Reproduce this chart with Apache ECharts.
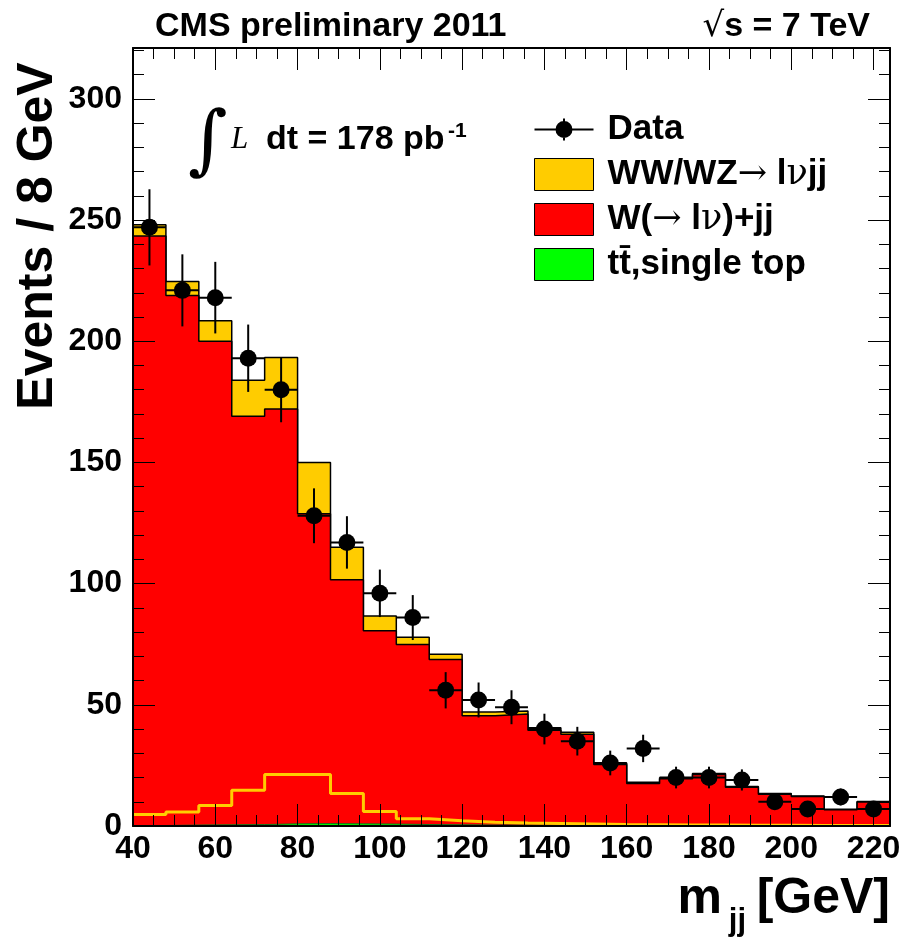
<!DOCTYPE html>
<html>
<head>
<meta charset="utf-8">
<script src="https://cdn.jsdelivr.net/npm/echarts@6/dist/echarts.min.js"></script>
<style>
html,body{margin:0;padding:0;background:#fff;}
#chart{width:907px;height:946px;}
</style>
</head>
<body>
<div id="chart"></div>
<script>
// ---- data ----
const binEdges = [40,48,56,64,72,80,88,96,104,112,120,128,136,144,152,160,168,176,184,192,200,208,216,224];
const binWidth = 8;
const dataCounts = [247,221,218,193,180,128,117,96,86,56,52,49,40,35,26,32,20,20,19,10,7,12,7];
const wjets = [243.2,218.5,199.5,168.5,171.2,127.8,100.7,79.8,74.3,68.2,45.1,45.8,39.2,37.6,25.2,17.3,19.3,21.1,15.9,13.0,12.1,6.6,9.8];
const diboson = [4.7,5.8,8.5,14.8,21.2,21.2,13.4,6.0,3.0,2.2,1.5,1.2,1.0,0.8,0.6,0.5,0.4,0.4,0.3,0.3,0.2,0.2,0.2];
const singleTop = [0.2,0.4,0.5,0.6,0.9,1.0,0.9,0.8,0.6,0.5,0.4,0.4,0.3,0.3,0.2,0.2,0.2,0.2,0.1,0.1,0.1,0.1,0.1];
const xTickLabels = [40,60,80,100,120,140,160,180,200,220];
const yTickLabels = [0,50,100,150,200,250,300];
const names = {
  data: 'Data',
  ww: 'WW/WZ\u2192 l\u03bdjj',
  wj: 'W(\u2192 l\u03bd)+jj',
  tt: 'tt\u0304,single top'
};

// ---- helpers ----
const stackTop = singleTop.map(v => v);
const stackRed = singleTop.map((v, i) => v + wjets[i]);
const stackAll = singleTop.map((v, i) => v + wjets[i] + diboson[i]);
function stepData(vals) {
  return binEdges.map((e, i) => [e, vals[Math.min(i, vals.length - 1)]]);
}
const dataPoints = dataCounts.map((c, i) => [binEdges[i] + binWidth / 2, c]);

const SF = '"Liberation Sans", Arial, Helvetica, sans-serif';
const titleSize = 50;

const chart = echarts.init(document.getElementById('chart'), null, {renderer: 'canvas'});

const axisCommon = {
  type: 'value',
  z: 10,
  axisLine: {show: true, onZero: false, lineStyle: {color: '#000', width: 2}},
  axisTick: {show: true, inside: true, length: 22, lineStyle: {color: '#000', width: 1}},
  minorTick: {show: true, length: 11, lineStyle: {color: '#000', width: 1}},
  splitLine: {show: false},
  minorSplitLine: {show: false}
};

const lineBase = {
  type: 'line',
  step: 'end',
  symbol: 'none',
  showSymbol: false,
  animation: false,
  clip: true
};

const option = {
  animation: false,
  backgroundColor: '#fff',
  grid: {left: 133, right: 17, top: 48, bottom: 120, containLabel: false},
  xAxis: [
    Object.assign({}, axisCommon, {
      position: 'bottom', min: 40, max: 224, interval: 20,
      minorTick: Object.assign({}, axisCommon.minorTick, {splitNumber: 4}),
      axisLabel: {show: true, margin: 7, fontSize: 32, fontWeight: 'bold', color: '#000', fontFamily: SF,
        showMaxLabel: false,
        formatter: v => (xTickLabels.indexOf(v) >= 0 ? String(v) : '')}
    }),
    Object.assign({}, axisCommon, {
      position: 'top', min: 40, max: 224, interval: 20,
      minorTick: Object.assign({}, axisCommon.minorTick, {splitNumber: 4}),
      axisLabel: {show: false}
    })
  ],
  yAxis: [
    Object.assign({}, axisCommon, {
      position: 'left', min: 0, max: 321, interval: 50,
      minorTick: Object.assign({}, axisCommon.minorTick, {splitNumber: 5}),
      axisLabel: {show: true, margin: 11, fontSize: 32, fontWeight: 'bold', color: '#000', fontFamily: SF,
        showMaxLabel: false,
        formatter: v => (yTickLabels.indexOf(v) >= 0 ? String(v) : '')}
    }),
    Object.assign({}, axisCommon, {
      position: 'right', min: 0, max: 321, interval: 50,
      minorTick: Object.assign({}, axisCommon.minorTick, {splitNumber: 5}),
      axisLabel: {show: false}
    })
  ],
  legend: {
    orient: 'vertical',
    left: 534,
    top: 112,
    padding: 0,
    itemWidth: 59,
    itemHeight: 32,
    itemGap: 10,
    selectedMode: false,
    textStyle: {
      fontSize: 35, fontWeight: 'bold', color: '#000', fontFamily: SF, padding: [0, 0, 0, 9],
      rich: {
        s: {fontSize: 35, fontWeight: 'normal', fontFamily: '"DejaVu Serif", "Liberation Serif", serif', color: '#000'},
        b: {fontSize: 35, fontWeight: 'bold', fontFamily: SF, color: '#000'}
      }
    },
    formatter: function (name) {
      let out = '';
      let buf = '';
      for (const ch of name) {
        if (ch === '\u2192' || ch === '\u03bd') {
          if (buf) { out += '{b|' + buf + '}'; buf = ''; }
          out += '{s|' + ch + '}';
        } else {
          buf += ch;
        }
      }
      if (buf) out += '{b|' + buf + '}';
      return out;
    },
    data: [
      {name: names.data, icon: 'path://M0 15H59V17H0Z M28.5 5H30.5V27H28.5Z M21 16A8.5 8.5 0 1 1 38 16A8.5 8.5 0 1 1 21 16Z',
        itemStyle: {color: '#000', borderWidth: 0}},
      {name: names.ww, icon: 'rect', itemStyle: {color: '#FFCC00', borderColor: '#000', borderWidth: 1}},
      {name: names.wj, icon: 'rect', itemStyle: {color: '#FF0000', borderColor: '#000', borderWidth: 1}},
      {name: names.tt, icon: 'rect', itemStyle: {color: '#00FF00', borderColor: '#000', borderWidth: 1}}
    ]
  },
  series: [
    Object.assign({}, lineBase, {
      name: names.ww,
      data: stepData(stackAll),
      lineStyle: {color: '#000', width: 1.5},
      itemStyle: {color: '#FFCC00'},
      areaStyle: {color: '#FFCC00', opacity: 1},
      z: 2
    }),
    Object.assign({}, lineBase, {
      name: names.wj,
      data: stepData(stackRed),
      lineStyle: {color: '#000', width: 1.5},
      itemStyle: {color: '#FF0000'},
      areaStyle: {color: '#FF0000', opacity: 1},
      z: 3
    }),
    Object.assign({}, lineBase, {
      name: names.tt,
      data: stepData(stackTop),
      lineStyle: {color: '#1a6b1a', width: 1},
      itemStyle: {color: '#00FF00'},
      areaStyle: {color: '#00FF00', opacity: 1},
      z: 4
    }),
    Object.assign({}, lineBase, {
      name: 'WW/WZ shape',
      data: stepData(diboson),
      lineStyle: {color: '#FFCC00', width: 3},
      itemStyle: {color: '#FFCC00'},
      z: 5
    }),
    {
      type: 'custom',
      name: names.data,
      coordinateSystem: 'cartesian2d',
      itemStyle: {color: '#000'},
      z: 6,
      clip: false,
      encode: {x: 0, y: 1},
      data: dataPoints,
      renderItem: function (params, api) {
        const x = api.value(0), y = api.value(1);
        const err = Math.sqrt(y);
        const c = api.coord([x, y]);
        const t = api.coord([x, y + err]);
        const b = api.coord([x, y - err]);
        const l = api.coord([x - binWidth / 2, y]);
        const r = api.coord([x + binWidth / 2, y]);
        return {
          type: 'group',
          children: [
            {type: 'line', shape: {x1: c[0], y1: t[1], x2: c[0], y2: b[1]}, style: {stroke: '#000', lineWidth: 2}},
            {type: 'line', shape: {x1: l[0], y1: c[1], x2: r[0], y2: c[1]}, style: {stroke: '#000', lineWidth: 2}},
            {type: 'circle', shape: {cx: c[0], cy: c[1], r: 8.5}, style: {fill: '#000'}}
          ]
        };
      }
    }
  ],
  graphic: [
    {type: 'text', left: 155, top: 10, style: {text: 'CMS preliminary 2011', fontSize: 34, fontWeight: 'bold', fontFamily: SF, fill: '#000'}},
    {type: 'text', right: 37, top: 10, style: {
      text: '{r|\u221a}{b|s = 7 TeV}',
      rich: {
        r: {fontSize: 34, fontFamily: '"DejaVu Sans", sans-serif', fontWeight: 'normal', fill: '#000'},
        b: {fontSize: 34, fontFamily: SF, fontWeight: 'bold', fill: '#000'}
      }
    }},
    // integrated luminosity
    {type: 'text', x: 188, y: 145, style: {text: '\u222b', fontSize: 76, fontFamily: '"DejaVu Serif", serif', fontStyle: 'italic', fill: '#000', verticalAlign: 'middle', align: 'left'}},
    {type: 'text', x: 231, y: 140, style: {text: 'L', fontSize: 31, fontFamily: '"Liberation Serif", serif', fontStyle: 'italic', fill: '#000', verticalAlign: 'middle', align: 'left'}},
    {type: 'text', x: 266, y: 140, style: {text: 'dt = 178 pb', fontSize: 34, fontFamily: SF, fontWeight: 'bold', fill: '#000', verticalAlign: 'middle', align: 'left'}},
    {type: 'text', x: 448, y: 131, style: {text: '-1', fontSize: 21, fontFamily: SF, fontWeight: 'bold', fill: '#000', verticalAlign: 'middle', align: 'left'}},
    // axis titles
    {type: 'text', x: 38, y: 236, rotation: Math.PI / 2, style: {text: 'Events / 8 GeV', fontSize: titleSize, fontWeight: 'bold', fontFamily: SF, fill: '#000', align: 'center', verticalAlign: 'middle'}},
    {type: 'text', x: 890, y: 899, style: {text: '[GeV]', fontSize: titleSize, fontWeight: 'bold', fontFamily: SF, fill: '#000', align: 'right', verticalAlign: 'middle'}},
    {type: 'text', x: 746, y: 921, style: {text: 'jj', fontSize: 31, fontWeight: 'bold', fontFamily: SF, fill: '#000', align: 'right', verticalAlign: 'middle'}},
    {type: 'text', x: 722, y: 899, style: {text: 'm', fontSize: titleSize, fontWeight: 'bold', fontFamily: SF, fill: '#000', align: 'right', verticalAlign: 'middle'}}
  ]
};
chart.setOption(option);
</script>
</body>
</html>
